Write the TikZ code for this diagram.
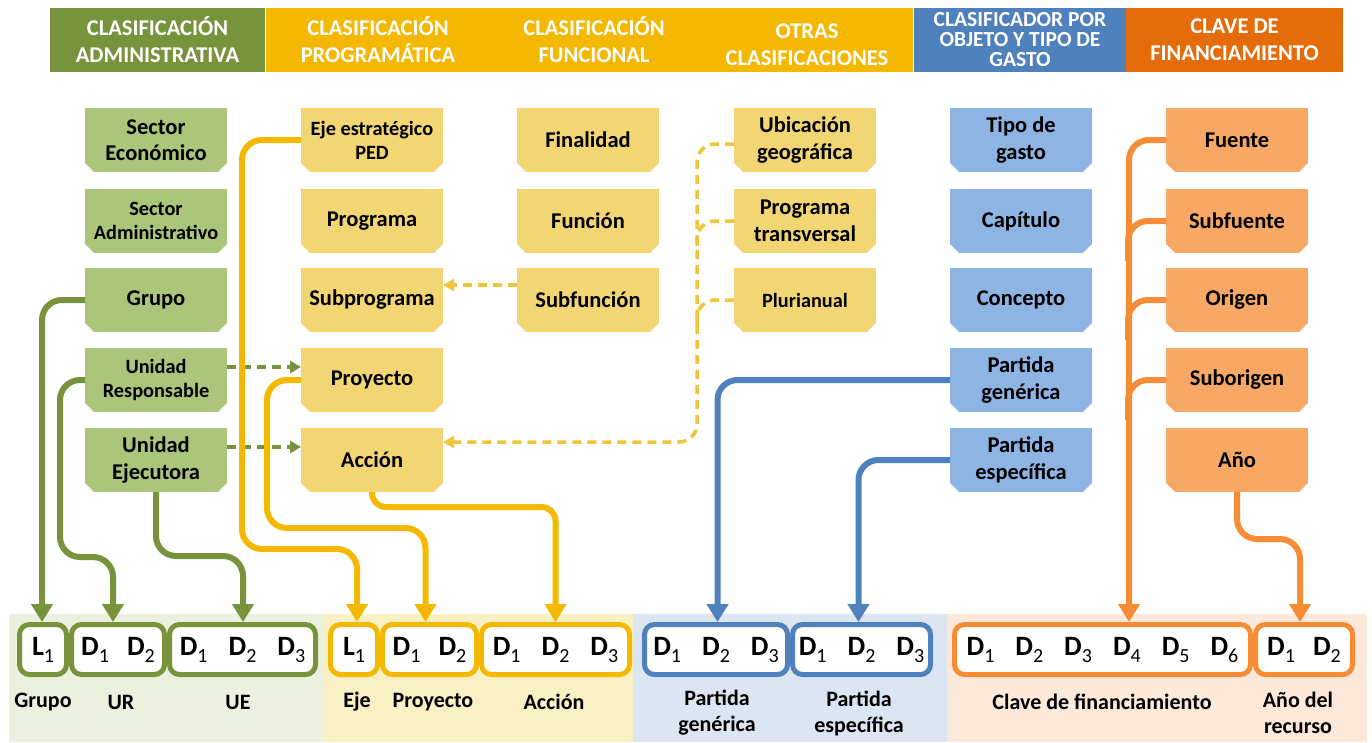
\documentclass[tikz,border=0pt]{standalone}
\usepackage{fontspec}
\setmainfont{Carlito}
\usetikzlibrary{arrows.meta}
\definecolor{gH}{HTML}{77933C}
\definecolor{gB}{HTML}{ABC57B}
\definecolor{gL}{HTML}{EBF1DE}
\definecolor{yH}{HTML}{F5B800}
\definecolor{yB}{HTML}{F3D674}
\definecolor{yL}{HTML}{F9F0C3}
\definecolor{yD}{HTML}{F0C43C}
\definecolor{bH}{HTML}{4F81BD}
\definecolor{bB}{HTML}{8EB4E3}
\definecolor{bL}{HTML}{DCE6F2}
\definecolor{oH}{HTML}{E46C0A}
\definecolor{oB}{HTML}{F8A865}
\definecolor{oA}{HTML}{F68C36}
\definecolor{oL}{HTML}{FDE9D9}
\newcommand\Dg[1]{{\fontsize{28}{28}\selectfont D}\raisebox{-7pt}{\fontsize{20}{20}\selectfont\mdseries #1}}
\newcommand\Lg[1]{{\fontsize{28}{28}\selectfont L}\raisebox{-7pt}{\fontsize{20}{20}\selectfont\mdseries #1}}
\newcommand\gapA{\hspace{21pt}}
\newcommand\gapB{\hspace{18pt}}
\tikzset{
  head/.style={fill=#1, text=white, font=\bfseries\fontsize{22.5}{27}\selectfont, align=center,
    inner sep=0pt, outer sep=0pt, minimum height=64pt},
  cbox/.style={fill=#1, minimum width=142pt, minimum height=64pt, inner sep=0pt, outer sep=0pt,
    align=center, font=\bfseries\fontsize{22.5}{26.5}\selectfont,
    path picture={
      \fill[white] ([xshift=-0.2pt,yshift=-0.2pt]path picture bounding box.south west) -- ++(9.2pt,0pt) -- ++(-9.2pt,9.2pt) -- cycle;
      \fill[white] ([xshift=0.2pt,yshift=-0.2pt]path picture bounding box.south east) -- ++(-9.2pt,0pt) -- ++(9.2pt,9.2pt) -- cycle;
    }},
  small/.style={font=\bfseries\fontsize{20.3}{24}\selectfont},
  code/.style={draw=#1, line width=5pt, rounded corners=10pt, fill=white, minimum height=50pt,
    inner sep=0pt, font=\bfseries},
  lab/.style={font=\bfseries\fontsize{22}{26}\selectfont, align=center, inner sep=0pt},
  conn/.style={draw=#1, line width=6pt, rounded corners=20pt, -{Triangle[length=18pt,width=21pt]}},
  branch/.style={draw=#1, line width=6pt, rounded corners=20pt},
  dconn/.style={draw=#1, line width=3.5pt, dash pattern=on 9pt off 6pt, rounded corners=18pt,
    -{Triangle[length=11pt,width=12pt]}},
  dbranch/.style={draw=#1, line width=3.5pt, dash pattern=on 9pt off 6pt, rounded corners=18pt},
}
\begin{document}
\begin{tikzpicture}[x=1pt,y=-1pt]
\useasboundingbox (0,0) rectangle (1372,742);
% bottom bands
\fill[gL] (9,614) rectangle (323,742);
\fill[yL] (323,614) rectangle (633,742);
\fill[bL] (633,614) rectangle (947,742);
\fill[oL] (947,614) rectangle (1367,742);
% headers
\node[head=gH, minimum width=215pt] (h1) at (157.5,40) {CLASIFICACIÓN\\ADMINISTRATIVA};
\node[head=yH, minimum width=224pt] (h2) at (378,40) {CLASIFICACIÓN\\PROGRAMÁTICA};
\node[head=yH, minimum width=212pt] (h3) at (594,40) {CLASIFICACIÓN\\FUNCIONAL};
\node[head=yH, minimum width=213pt, text height=0pt] (h4) at (806,40) {};
\node[text=white, font=\bfseries\fontsize{22.5}{27}\selectfont, align=center] (h4t) at (807,45) {OTRAS\\CLASIFICACIONES};
\node[head=bH, minimum width=212pt, font=\bfseries\fontsize{21.5}{20}\selectfont] (h5) at (1020,40) {CLASIFICADOR POR\\OBJETO Y TIPO DE\\GASTO};
\node[head=oH, minimum width=217pt] (h6) at (1234.5,40) {CLAVE DE\\FINANCIAMIENTO};
% green boxes
\node[cbox=gB] (se) at (156,140) {Sector\\Económico};
\node[cbox=gB, small] (sa) at (156,221) {Sector\\Administrativo};
\node[cbox=gB] (grupo) at (156,300) {Grupo};
\node[cbox=gB, small] (ur) at (156,380) {Unidad\\Responsable};
\node[cbox=gB] (ue) at (156,460) {Unidad\\Ejecutora};
% programatica
\node[cbox=yB, small] (eje) at (372,140) {Eje estratégico\\PED};
\node[cbox=yB] (programa) at (372,221) {Programa};
\node[cbox=yB] (subprog) at (372,300) {Subprograma};
\node[cbox=yB] (proyecto) at (372,380) {Proyecto};
\node[cbox=yB] (accion) at (372,460) {Acción};
% funcional
\node[cbox=yB] (finalidad) at (588,140) {Finalidad};
\node[cbox=yB] (funcion) at (588,221) {Función};
\node[cbox=yB] (subfuncion) at (588,300) {Subfunción};
% otras
\node[cbox=yB] (ubic) at (805,140) {Ubicación\\geográfica};
\node[cbox=yB] (ptrans) at (805,221) {Programa\\transversal};
\node[cbox=yB, small] (pluri) at (805,300) {Plurianual};
% objeto
\node[cbox=bB] (tipo) at (1021,140) {Tipo de\\gasto};
\node[cbox=bB] (capitulo) at (1021,221) {Capítulo};
\node[cbox=bB] (concepto) at (1021,300) {Concepto};
\node[cbox=bB] (pgen) at (1021,380) {Partida\\genérica};
\node[cbox=bB] (pesp) at (1021,460) {Partida\\específica};
% financiamiento
\node[cbox=oB] (fuente) at (1237,140) {Fuente};
\node[cbox=oB] (subfuente) at (1237,221) {Subfuente};
\node[cbox=oB] (origen) at (1237,300) {Origen};
\node[cbox=oB] (suborigen) at (1237,380) {Suborigen};
\node[cbox=oB] (anio) at (1237,460) {Año};
% code boxes
\node[code=gH, minimum width=47pt] (gL1) at (43,649.5) {\Lg1};
\node[code=gH, minimum width=93pt] (gUR) at (118,649.5) {\Dg1\gapB\Dg2};
\node[code=gH, minimum width=146pt] (gUE) at (242.5,649.5) {\Dg1\gapA\Dg2\gapA\Dg3};
\node[code=yH, minimum width=47pt] (yL1) at (354,649.5) {\Lg1};
\node[code=yH, minimum width=94pt] (yProy) at (429.5,649.5) {\Dg1\gapB\Dg2};
\node[code=yH, minimum width=148pt] (yAcc) at (555.5,649.5) {\Dg1\gapA\Dg2\gapA\Dg3};
\node[code=bH, minimum width=143pt] (bGen) at (716,649.5) {\Dg1\gapA\Dg2\gapA\Dg3};
\node[code=bH, minimum width=138pt] (bEsp) at (861.5,649.5) {\Dg1\gapA\Dg2\gapA\Dg3};
\node[code=oA, minimum width=296pt] (oClave) at (1102.5,649.5) {\Dg1\gapA\Dg2\gapA\Dg3\gapA\Dg4\gapA\Dg5\gapA\Dg6};
\node[code=oA, minimum width=97pt] (oAnio) at (1304,649.5) {\Dg1\gapB\Dg2};
% labels
\node[lab] (l1) at (43,702) {Grupo};
\node[lab] (l2) at (121,702) {UR};
\node[lab] (l3) at (238,702) {UE};
\node[lab] (l4) at (357,702) {Eje};
\node[lab] (l5) at (433,702) {Proyecto};
\node[lab] (l6) at (554,702) {Acción};
\node[lab] (l7) at (717,713) {Partida\\genérica};
\node[lab] (l8) at (859,713) {Partida\\específica};
\node[lab] (l9) at (1102,702) {Clave de financiamiento};
\node[lab] (l10) at (1298,713) {Año del\\recurso};
% dashed connectors
\draw[dconn=gH] ([yshift=13pt]ur.east) -- ([yshift=13pt]proyecto.west);
\draw[dconn=gH] ([yshift=13pt]ue.east) -- ([yshift=13pt]accion.west);
\draw[dconn=yD] ([yshift=15pt]subfuncion.west) -- ([yshift=15pt]subprog.east);
\draw[dconn=yD] ([yshift=-4pt]ubic.west) -| ([xshift=254pt,yshift=18pt]accion.east) -- ([yshift=18pt]accion.east);
\draw[dbranch=yD] (ptrans.west) -| ++(-37,30);
\draw[dbranch=yD] (pluri.west) -| ++(-37,30);
% green connectors
\draw[conn=gH] (grupo.west) -| ([xshift=-1pt]gL1.north);
\draw[conn=gH] (ur.west) -| ++(-25,177) -| ([xshift=-5pt]gUR.north);
\draw[conn=gH] (ue.south) -- ++(0,64) -| ([xshift=0.5pt]gUE.north);
% yellow connectors
\draw[conn=yH] (eje.west) -| ++(-59,409) -| ([xshift=3pt]yL1.north);
\draw[conn=yH] (proyecto.west) -| ++(-34,148) -| ([xshift=-4pt]yProy.north);
\draw[conn=yH, rounded corners=14pt] (accion.south) -- ++(0,15) -| (yAcc.north);
% blue connectors
\draw[conn=bH] (pgen.west) -| ([xshift=1.5pt]bGen.north);
\draw[conn=bH] (pesp.west) -| ([xshift=-3pt]bEsp.north);
% orange connectors
\draw[conn=oA] (fuente.west) -| ([xshift=26.5pt]oClave.north);
\draw[branch=oA] (subfuente.west) -| ++(-38,40);
\draw[branch=oA] (origen.west) -| ++(-38,40);
\draw[branch=oA] (suborigen.west) -| ++(-38,40);
\draw[conn=oA] (anio.south) -- ++(0,47) -| ([xshift=-4pt]oAnio.north);
\end{tikzpicture}
\end{document}
